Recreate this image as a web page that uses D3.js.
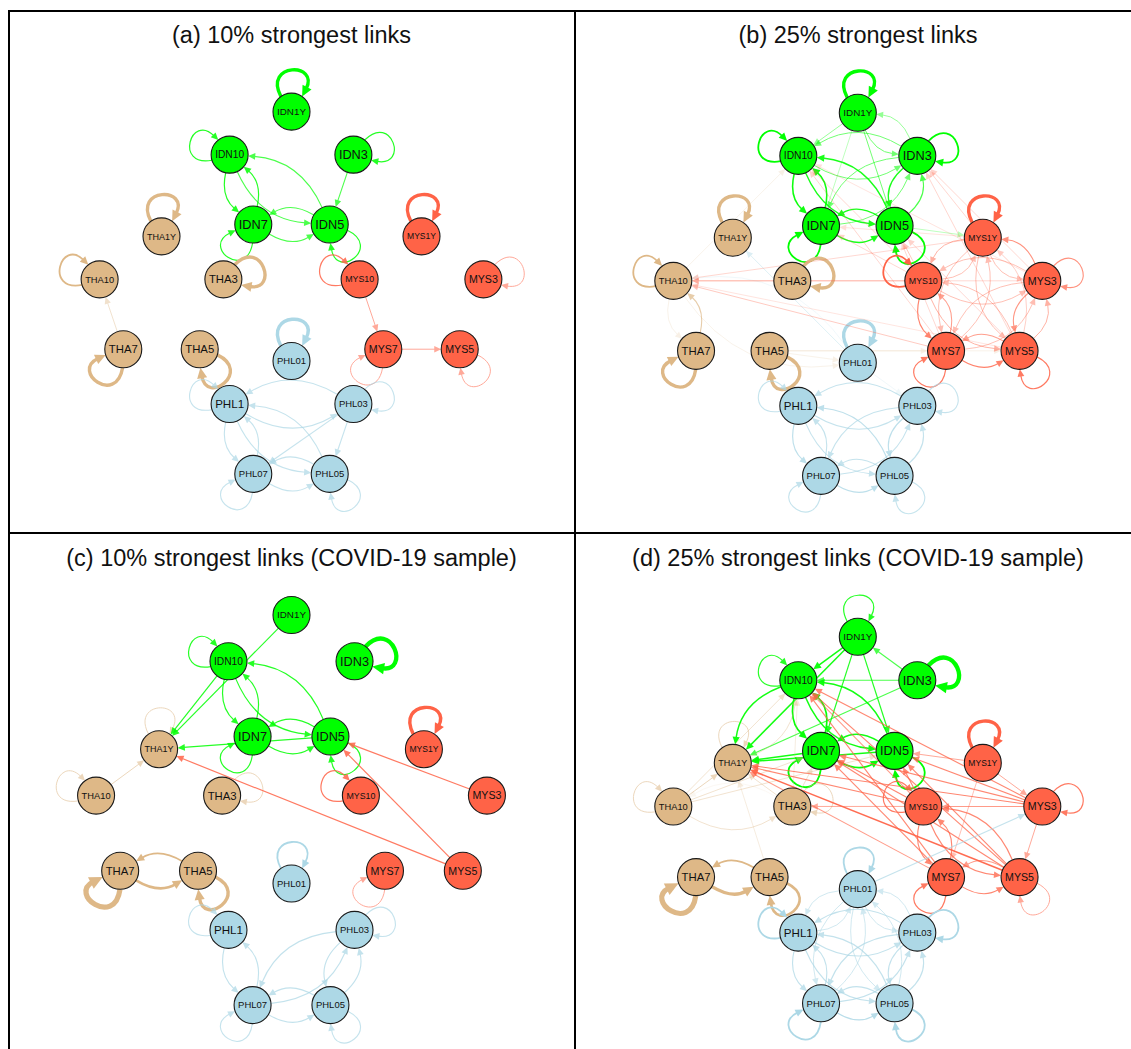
<!DOCTYPE html>
<html><head><meta charset="utf-8">
<script src="https://cdn.jsdelivr.net/npm/d3@7"></script>
<style>body{margin:0;background:#fff} svg{display:block}</style>
</head><body>
<svg id="chart" width="1131" height="1049"></svg>
<script>
// ---------------- DATA ----------------
const nodeNames  = ["IDN1Y","IDN10","IDN3","IDN7","IDN5","THA1Y","THA10","THA3","THA7","THA5","MYS1Y","MYS10","MYS3","MYS7","MYS5","PHL01","PHL1","PHL03","PHL07","PHL05"];
const nodeGroups = ["IDN","IDN","IDN","IDN","IDN","THA","THA","THA","THA","THA","MYS","MYS","MYS","MYS","MYS","PHL","PHL","PHL","PHL","PHL"];
// layout coordinates (graph layout units)
const layoutX = [0,-0.476,0.476,-0.294,0.294, -1,-1.476,-0.524,-1.294,-0.706, 1,0.524,1.476,0.706,1.294, 0,-0.476,0.476,-0.294,0.294];
const layoutY = [-1.5,-1.155,-1.155,-0.595,-0.595, -0.5,-0.155,-0.155,0.405,0.405, -0.5,-0.155,-0.155,0.405,0.405, 0.5,0.845,0.845,1.405,1.405];
const groupNames  = ["IDN","THA","MYS","PHL"];
const groupColors = ["#00FF00","#DEB887","#FF6347","#ADD8E6"];
const panelTitles = ["(a) 10% strongest links","(b) 25% strongest links","(c) 10% strongest links (COVID-19 sample)","(d) 25% strongest links (COVID-19 sample)"];

// edges: [source, target, strength level]
const edgesA = [
 ["IDN1Y","IDN1Y",6],["IDN10","IDN10",4],["IDN3","IDN3",4],["IDN7","IDN7",4],["IDN5","IDN5",4],
 ["THA1Y","THA1Y",6],["THA10","THA10",5],["THA3","THA3",6],["THA7","THA7",6],["THA5","THA5",6],
 ["MYS1Y","MYS1Y",6],["MYS10","MYS10",4],["MYS3","MYS3",3],["MYS7","MYS7",3],["MYS5","MYS5",3],
 ["PHL01","PHL01",6],["PHL1","PHL1",3.5],["PHL03","PHL03",3.5],["PHL07","PHL07",3.5],["PHL05","PHL05",3.5],
 ["IDN10","IDN7",4],["IDN7","IDN10",4],["IDN10","IDN5",3.5],["IDN5","IDN10",3.5],["IDN3","IDN5",3.5],["IDN7","IDN5",3.5],["IDN5","IDN7",3.5],
 ["THA7","THA10",2.5],
 ["MYS10","MYS7",3],["MYS7","MYS5",3],
 ["PHL1","PHL03",3.5],["PHL03","PHL1",3.5],["PHL1","PHL07",3.5],["PHL07","PHL1",3.5],["PHL1","PHL05",3.5],["PHL05","PHL1",3.5],
 ["PHL03","PHL05",3.5],["PHL03","PHL07",3.5],["PHL07","PHL05",3.5],["PHL05","PHL07",3.5]
];
const edgesB = [
 ["IDN1Y","IDN1Y",6],["IDN10","IDN10",5],["IDN3","IDN3",5],["IDN7","IDN7",5],["IDN5","IDN5",5],
 ["THA1Y","THA1Y",6],["THA10","THA10",5],["THA3","THA3",6],["THA7","THA7",6],["THA5","THA5",6],
 ["MYS1Y","MYS1Y",6],["MYS10","MYS10",5],["MYS3","MYS3",3.5],["MYS7","MYS7",4],["MYS5","MYS5",4],
 ["PHL01","PHL01",6],["PHL1","PHL1",3.5],["PHL03","PHL03",3.5],["PHL07","PHL07",3.5],["PHL05","PHL05",3.5],
 ["IDN1Y","IDN10",2.5],["IDN1Y","IDN3",3],["IDN3","IDN1Y",2.5],["IDN1Y","IDN5",3],["IDN1Y","IDN7",2],
 ["IDN10","IDN3",3],["IDN3","IDN10",3],["IDN10","IDN7",4.6],["IDN7","IDN10",4.6],["IDN10","IDN5",4.3],["IDN5","IDN10",4.3],
 ["IDN3","IDN5",4.3],["IDN5","IDN3",3.5],["IDN3","IDN7",3],["IDN7","IDN3",3],["IDN7","IDN5",4.3],["IDN5","IDN7",4.3],
 ["IDN5","MYS1Y",2],
 ["THA7","THA10",3.5],["THA10","THA7",1.5],["THA10","IDN10",1.5],["THA5","PHL01",1.5],["THA5","MYS7",1.5],["THA5","MYS5",1.5],["THA10","PHL01",1.5],
 ["PHL01","THA1Y",2.5],["PHL01","THA10",1.5],["PHL01","PHL03",1.5],
 ["MYS10","THA10",2.3],["MYS1Y","THA10",2],["MYS3","THA10",2],["MYS7","THA10",2.3],["MYS5","THA10",1.5],
 ["MYS10","IDN5",2.3],["MYS10","IDN7",2],["MYS10","IDN10",2],["MYS3","IDN3",2],["MYS1Y","IDN3",2],["MYS5","IDN3",2],
 ["MYS7","IDN10",2],["MYS5","IDN5",2],["MYS7","IDN5",2],["MYS3","IDN10",1.5],["MYS1Y","IDN7",1.5],
 ["MYS1Y","MYS10",2.8],["MYS10","MYS1Y",2.5],["MYS1Y","MYS3",2.5],["MYS3","MYS1Y",3.5],["MYS1Y","MYS7",2.5],["MYS7","MYS1Y",2.5],
 ["MYS1Y","MYS5",2.5],["MYS5","MYS1Y",2.2],["MYS10","MYS3",2.5],["MYS3","MYS10",2.5],["MYS10","MYS7",3.8],["MYS7","MYS10",3.2],
 ["MYS10","MYS5",2.8],["MYS5","MYS10",2.5],["MYS3","MYS7",2.5],["MYS7","MYS3",2.5],["MYS3","MYS5",3.4],["MYS5","MYS3",2.8],
 ["MYS7","MYS5",3.8],["MYS5","MYS7",3.2],
 ["PHL1","PHL03",3.5],["PHL03","PHL1",3.5],["PHL1","PHL07",3.8],["PHL07","PHL1",3.5],["PHL1","PHL05",3.5],["PHL05","PHL1",3.8],
 ["PHL03","PHL07",3.5],["PHL07","PHL03",3.5],["PHL03","PHL05",3.8],["PHL05","PHL03",3.5],["PHL07","PHL05",3.8],["PHL05","PHL07",3.5]
];
const edgesC = [
 ["IDN10","IDN10",4],["IDN3","IDN3",6.5],["IDN7","IDN7",4],["IDN5","IDN5",4],
 ["THA1Y","THA1Y",3],["THA10","THA10",3],["THA3","THA3",3],["THA7","THA7",7],["THA5","THA5",6],
 ["MYS1Y","MYS1Y",6],["MYS10","MYS10",4],["MYS7","MYS7",3],
 ["PHL01","PHL01",5],["PHL1","PHL1",3.5],["PHL03","PHL03",3.5],["PHL07","PHL07",3.5],["PHL05","PHL05",3.5],
 ["IDN1Y","THA1Y",4],["IDN10","THA1Y",4],["IDN10","IDN7",4],["IDN7","IDN10",4],["IDN10","IDN5",4],["IDN5","IDN10",4],
 ["IDN7","IDN5",4],["IDN5","IDN7",4],["IDN5","THA1Y",4],
 ["THA10","THA1Y",3],["THA7","THA5",5.5],["THA5","THA7",5],
 ["MYS3","IDN5",4],["MYS5","IDN5",4],["MYS5","THA1Y",4],
 ["PHL1","PHL07",3.6],["PHL07","PHL1",3.6],["PHL03","PHL07",3.6],["PHL07","PHL03",3.6],["PHL03","PHL05",3.6],["PHL05","PHL03",3.6],
 ["PHL07","PHL05",3.6],["PHL05","PHL07",3.6]
];
const edgesD = [
 ["IDN1Y","IDN1Y",4],["IDN10","IDN10",4],["IDN3","IDN3",6.5],["IDN7","IDN7",5],["IDN5","IDN5",5],
 ["THA1Y","THA1Y",3],["THA10","THA10",3],["THA3","THA3",3],["THA7","THA7",7],["THA5","THA5",5.5],
 ["MYS1Y","MYS1Y",6],["MYS10","MYS10",4],["MYS3","MYS3",4],["MYS7","MYS7",4],["MYS5","MYS5",3],
 ["PHL01","PHL01",5],["PHL1","PHL1",5],["PHL03","PHL03",5],["PHL07","PHL07",5],["PHL05","PHL05",5],
 ["IDN1Y","IDN10",4.5],["IDN1Y","THA1Y",4.5],["IDN1Y","IDN7",4],["IDN1Y","IDN5",4],["IDN3","IDN1Y",3.5],["IDN3","IDN10",3.5],["IDN3","THA1Y",3.5],
 ["IDN10","IDN7",4.8],["IDN7","IDN10",4.8],["IDN10","IDN5",4.5],["IDN5","IDN10",4.5],["IDN7","IDN5",4.8],["IDN5","IDN7",4.5],
 ["IDN10","THA1Y",4.5],["IDN7","THA1Y",4.5],["IDN5","THA1Y",4.5],
 ["THA1Y","IDN10",2.5],["THA10","THA1Y",3],["THA10","IDN10",2.5],["THA10","IDN7",2.5],["THA10","IDN5",2.5],["THA10","THA3",2.5],["THA3","THA10",1],
 ["THA3","THA1Y",2.5],["THA3","IDN7",2.5],["THA3","IDN10",2],["THA5","THA1Y",2],["THA7","THA5",6],["THA5","THA7",5],
 ["MYS1Y","IDN5",3],["MYS1Y","MYS3",3],["MYS1Y","MYS7",2.5],
 ["MYS10","THA1Y",3.7],["MYS10","IDN7",3.7],["MYS10","IDN10",3.3],["MYS10","IDN5",3.7],["MYS10","THA3",3],["MYS10","MYS7",3.7],["MYS10","MYS5",3.7],
 ["MYS3","THA1Y",3.8],["MYS3","IDN10",3.7],["MYS3","IDN7",3.7],["MYS3","IDN5",3.7],["MYS3","MYS10",3.3],["MYS3","MYS5",3],
 ["MYS7","IDN10",3.7],["MYS7","IDN7",3.7],["MYS7","MYS10",3.7],["MYS7","MYS5",3.7],["MYS7","THA1Y",3.3],
 ["MYS5","THA1Y",4.6],["MYS5","IDN10",3.7],["MYS5","IDN7",3.7],["MYS5","IDN5",3.7],["MYS5","MYS10",3.7],["MYS5","MYS7",3.3],
 ["PHL01","MYS3",3.5],
 ["PHL01","PHL1",3],["PHL1","PHL01",3],["PHL01","PHL03",3],["PHL03","PHL01",3],["PHL01","PHL07",3],["PHL07","PHL01",3],
 ["PHL01","PHL05",3],["PHL05","PHL01",3],["PHL1","PHL03",3.6],["PHL03","PHL1",3.6],["PHL1","PHL07",3.6],["PHL07","PHL1",3.6],
 ["PHL1","PHL05",3.6],["PHL05","PHL1",3.6],["PHL03","PHL07",3.6],["PHL07","PHL03",3.6],["PHL03","PHL05",3.6],["PHL05","PHL03",3.6],
 ["PHL07","PHL05",4],["PHL05","PHL07",3.6]
];

// ---------------- RENDER ----------------
const svg = d3.select("#chart");
const NODE_R = 18.5;
const FONT = "'Liberation Sans', Arial, Helvetica, sans-serif";

const levelDomain = [1, 2, 3, 4, 5, 6, 7];
const widthScale   = d3.scaleLinear().domain(levelDomain).range([0.8, 0.9, 1.0, 1.2, 1.8, 3.4, 5.2]);
const opacityScale = d3.scaleLinear().domain(levelDomain).range([0.12, 0.28, 0.55, 0.85, 1, 1, 1]).clamp(true);
const colorScale   = d3.scaleOrdinal().domain(groupNames).range(groupColors);

const panels = [
  {edges: edgesA, cx: 291.5, cy: 298.7, ux: 130,   uy: 124.7, tx: 291.5, ty: 43},
  {edges: edgesB, cx: 857.8, cy: 300.2, ux: 125,   uy: 125,   tx: 858,   ty: 43},
  {edges: edgesC, cx: 291.5, cy: 816.4, ux: 132.4, uy: 134.3, tx: 291.5, ty: 566},
  {edges: edgesD, cx: 857.8, cy: 826,   ux: 125,   uy: 126.2, tx: 858,   ty: 566}
];

// frame lines
const frame = svg.append("g").attr("stroke", "#000").attr("stroke-width", 2).attr("fill", "none");
frame.append("path").attr("d", "M8,11H1131");
frame.append("path").attr("d", "M9,10V1049");
frame.append("path").attr("d", "M575,10V1049");
frame.append("path").attr("d", "M8,533H1131");

const nodeIndex = new Map(nodeNames.map((n, i) => [n, i]));

panels.forEach((p, pi) => {
  const xs = d3.scaleLinear().domain([-1, 1]).range([p.cx - p.ux, p.cx + p.ux]);
  const ys = d3.scaleLinear().domain([-1, 1]).range([p.cy - p.uy, p.cy + p.uy]);
  const pos = {};
  nodeNames.forEach((n, i) => { pos[n] = [xs(layoutX[i]), ys(layoutY[i])]; });
  const gc = {};
  groupNames.forEach(g => {
    const idx = nodeNames.map((n, i) => i).filter(i => nodeGroups[i] === g);
    gc[g] = [d3.mean(idx, i => xs(layoutX[i])), d3.mean(idx, i => ys(layoutY[i]))];
  });
  const g = svg.append("g");
  g.append("text").attr("x", p.tx).attr("y", p.ty).attr("text-anchor", "middle")
    .attr("font-family", FONT).attr("font-size", 23.5).attr("fill", "#111").text(panelTitles[pi]);

  const keys = new Set(p.edges.map(e => e[0] + "|" + e[1]));
  const eg = g.append("g");
  const r = NODE_R;
  p.edges.forEach(e => {
    const [sN, tN, lvl] = e;
    const col = colorScale(nodeGroups[nodeIndex.get(sN)]);
    const w = widthScale(lvl), op = opacityScale(lvl);
    const al = 5.5 + 1.5 * w, aw = 2.5 + 0.75 * w;
    const s = pos[sN], t = pos[tN];
    const grp = eg.append("g").attr("opacity", op);
    let d, tip, dir;
    if (sN === tN) {
      const c = gc[nodeGroups[nodeIndex.get(sN)]];
      const th = Math.atan2(s[1] - c[1], s[0] - c[0]);
      const b1 = 35 * Math.PI / 180, gm = 30 * Math.PI / 180, D = 57;
      const P1 = [s[0] + r * Math.cos(th - b1), s[1] + r * Math.sin(th - b1)];
      const Q1 = [s[0] + D * Math.cos(th - gm), s[1] + D * Math.sin(th - gm)];
      const Q2 = [s[0] + D * Math.cos(th + gm), s[1] + D * Math.sin(th + gm)];
      const P2 = [s[0] + r * Math.cos(th + b1), s[1] + r * Math.sin(th + b1)];
      let vx = P2[0] - Q2[0], vy = P2[1] - Q2[1]; const L = Math.hypot(vx, vy); vx /= L; vy /= L;
      tip = P2; dir = [vx, vy];
      const base = [P2[0] - al * 0.8 * vx, P2[1] - al * 0.8 * vy];
      d = `M${P1}C${Q1} ${Q2} ${base}`;
    } else {
      const dx = t[0] - s[0], dy = t[1] - s[1], len = Math.hypot(dx, dy);
      if (keys.has(tN + "|" + sN)) {
        const px = -dy / len, py = dx / len;
        const Q = [(s[0] + t[0]) / 2 + 0.3 * len * px, (s[1] + t[1]) / 2 + 0.3 * len * py];
        const us = [Q[0] - s[0], Q[1] - s[1]], ls = Math.hypot(...us);
        const ut = [Q[0] - t[0], Q[1] - t[1]], lt = Math.hypot(...ut);
        const P0 = [s[0] + r * us[0] / ls, s[1] + r * us[1] / ls];
        const P2 = [t[0] + r * ut[0] / lt, t[1] + r * ut[1] / lt];
        let vx = P2[0] - Q[0], vy = P2[1] - Q[1]; const L = Math.hypot(vx, vy); vx /= L; vy /= L;
        tip = P2; dir = [vx, vy];
        const base = [P2[0] - al * 0.8 * vx, P2[1] - al * 0.8 * vy];
        d = `M${P0}Q${Q} ${base}`;
      } else {
        const vx = dx / len, vy = dy / len;
        const P0 = [s[0] + r * vx, s[1] + r * vy];
        const P2 = [t[0] - r * vx, t[1] - r * vy];
        tip = P2; dir = [vx, vy];
        const base = [P2[0] - al * 0.8 * vx, P2[1] - al * 0.8 * vy];
        d = `M${P0}L${base}`;
      }
    }
    grp.append("path").attr("d", d).attr("fill", "none").attr("stroke", col).attr("stroke-width", w);
    const bx = tip[0] - al * dir[0], by = tip[1] - al * dir[1];
    const nx = -dir[1], ny = dir[0];
    grp.append("path")
      .attr("d", `M${tip}L${[bx + aw * nx, by + aw * ny]}L${[bx - aw * nx, by - aw * ny]}Z`)
      .attr("fill", col);
  });

  const ng = g.append("g").selectAll("g").data(nodeNames).join("g")
    .attr("transform", n => `translate(${pos[n]})`);
  ng.append("circle").attr("r", r)
    .attr("fill", (n, i) => colorScale(nodeGroups[i]))
    .attr("stroke", "#1a1a1a").attr("stroke-width", 1.1);
  ng.append("text")
    .attr("text-anchor", "middle").attr("dy", "0.35em")
    .attr("font-family", FONT).attr("font-size", 13).attr("fill", "#111")
    .text(n => n)
    .each(function () {
      const L = this.getComputedTextLength();
      const fs = Math.min(12.8, 13 * 29 / L);
      d3.select(this).attr("font-size", fs.toFixed(2));
    });
});
</script>
</body></html>
